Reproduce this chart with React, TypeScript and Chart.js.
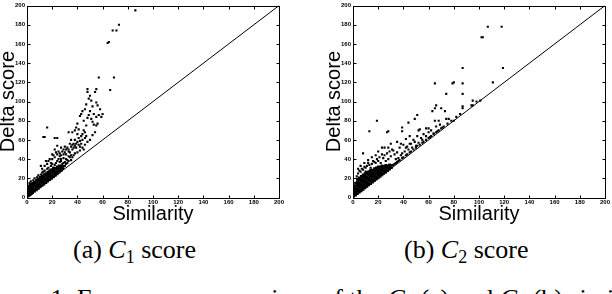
import React, { useEffect, useRef } from "react";
import { Chart, registerables } from "chart.js";

Chart.register(...registerables);

// ---------- DATA ----------
const axisMin = 0;
const axisMax = 200;
const tickStep = 20;
const xTitle = "Similarity";
const yTitle = "Delta score";
const diagonal = [
  { x: 0, y: 0 },
  { x: 200, y: 200 },
];

// C1: dense cluster (x -> list of y)
const c1DenseCols: [number, number[]][] = [
  [0.5, [1, 3, 5, 7, 9]],
  [1.5, [2, 4, 6, 8, 10, 12]],
  [2.5, [3, 5, 7, 9, 11, 13]],
  [3.5, [4, 6, 8, 10, 12, 14]],
  [4.5, [5, 7, 9, 11, 13, 15]],
  [6, [6.5, 9, 11.5, 14, 16]],
  [7.5, [8, 10.5, 13, 15.5, 18]],
  [9, [9.5, 12, 14.5, 17, 19.5]],
  [10.5, [11, 13.5, 16, 18.5, 21]],
  [12, [12.5, 15, 17.5, 20, 22.5]],
  [13.5, [14, 16.5, 19, 21.5, 24]],
  [15, [15.5, 18, 20.5, 23, 25]],
  [16.5, [17, 19.5, 22, 24.5, 26.5]],
  [18, [18.5, 21, 23.5, 26, 28]],
  [19.5, [20, 22.5, 25, 27.5, 29]],
  [21, [21.5, 24, 26.5, 29, 31]],
  [22.5, [23, 25.5, 28, 30.5]],
  [24, [24.5, 27, 29.5, 32]],
  [25.5, [26.5, 29, 31, 33]],
  [27, [28, 30.5, 33]],
  [28.5, [30, 32.5]],
];

// C1: sparse points [similarity, delta]
const c1Sparse: [number, number][] = [
  [86, 195], [73, 180], [68, 174], [71, 174], [65, 162], [64, 161], [57, 125], [69, 125], [66, 112],
  [48, 113], [48, 110], [55, 113], [54, 110], [50, 106],
  [49, 103], [51, 101], [55, 99], [47, 97], [56, 96], [52, 95], [46, 92], [58, 92], [50, 90], [44, 90],
  [43, 87], [53, 87], [57, 86], [55, 84], [59, 84], [48, 83], [51, 82], [45, 80], [52, 79], [56, 77],
  [53, 76], [55, 75], [47, 75], [42, 85], [60, 87], [49, 86],
  [36, 68], [40, 66], [43, 64], [47, 64], [46, 68], [39, 73], [41, 71], [33, 68], [34, 56], [36, 55],
  [39, 56], [43, 56], [27, 52], [31, 50], [29, 45], [26, 43], [24, 54], [22, 62], [24, 62], [16, 73],
  [13, 63], [14, 63], [38, 60], [41, 62], [44, 66], [37, 52], [33, 48], [30, 53], [35, 60], [42, 59],
  [45, 70], [40, 77], [38, 70],
  [20, 40], [21, 44], [22, 42], [23, 47], [24, 45], [25, 48], [26, 46], [27, 44], [28, 48], [29, 50],
  [30, 47], [31, 45], [32, 52], [33, 50], [34, 47], [35, 53], [36, 50], [37, 56], [38, 54], [39, 52],
  [40, 58], [41, 55], [42, 53], [44, 60], [46, 62], [25, 40], [27, 38], [29, 41], [31, 40], [33, 43],
  [30, 37], [28, 35], [32, 39], [34, 42], [35, 44], [19, 36], [18, 40], [17, 38], [16, 35], [15, 38],
  [20, 45], [22, 50], [12, 30], [11, 33], [14, 33],
  [30, 33], [31, 35], [32, 36], [33, 38], [35, 39], [36, 42], [37, 44], [38, 46], [40, 47], [42, 49],
  [44, 52], [46, 55], [48, 58], [50, 60], [52, 65], [54, 68], [45, 50],
  [2, 15], [3, 17], [5, 18], [6, 20], [8, 21], [9, 23], [11, 24], [12, 26], [13, 27], [14, 28],
  [16, 30], [17, 31], [19, 33], [20, 35], [22, 34], [23, 36], [24, 38], [26, 37], [27, 40], [29, 36],
];

// C2: dense cluster (x -> list of y)
const c2DenseCols: [number, number[]][] = [
  [0.5, [1, 3.5, 6, 8.5, 11]],
  [2, [2.5, 5, 7.5, 10, 12.5, 15]],
  [3.5, [4, 6.5, 9, 11.5, 14, 16.5, 19]],
  [5, [5.5, 8, 10.5, 13, 15.5, 18, 20.5]],
  [6.5, [7, 9.5, 12, 14.5, 17, 19.5, 22]],
  [8, [8.5, 11, 13.5, 16, 18.5, 21, 23.5]],
  [9.5, [10, 12.5, 15, 17.5, 20, 22.5, 25]],
  [11, [11.5, 14, 16.5, 19, 21.5, 24, 26]],
  [12.5, [13, 15.5, 18, 20.5, 23, 25.5, 27]],
  [14, [14.5, 17, 19.5, 22, 24.5, 27, 28.5]],
  [15.5, [16, 18.5, 21, 23.5, 26, 28.5]],
  [17, [17.5, 20, 22.5, 25, 27.5, 30]],
  [18.5, [19, 21.5, 24, 26.5, 29, 31]],
  [20, [20.5, 23, 25.5, 28, 30.5, 32]],
  [21.5, [22, 24.5, 27, 29.5, 32]],
  [23, [23.5, 26, 28.5, 31, 33]],
  [24.5, [25, 27.5, 30, 32.5]],
  [26, [26.5, 29, 31.5, 33.5]],
  [27.5, [28, 30.5, 33]],
  [29, [29.5, 32, 34]],
  [30.5, [31, 33.5]],
];

// C2: sparse points [similarity, delta]
const c2Sparse: [number, number][] = [
  [107, 178], [118, 178], [102, 167], [103, 167], [119, 135], [87, 135], [87, 119], [87, 108], [111, 120],
  [65, 119], [79, 119], [80, 120], [74, 108], [95, 101], [101, 101], [87, 95], [87, 93], [94, 96],
  [65, 93], [66, 96], [63, 90], [70, 93], [73, 90], [74, 82], [76, 82], [80, 80], [51, 86], [49, 82],
  [65, 80], [68, 80], [58, 72], [60, 72], [52, 70], [53, 71], [44, 78], [39, 73], [39, 69], [27, 68],
  [28, 69], [19, 80], [13, 69], [8, 46], [12, 39],
  [95, 96], [98, 100], [85, 87], [82, 84], [78, 80], [75, 77], [72, 74], [70, 72], [68, 70], [66, 68],
  [64, 66], [62, 64], [60, 62], [58, 60], [56, 58], [55, 57], [53, 55], [51, 54], [50, 52], [48, 50],
  [46, 48], [45, 47], [43, 45], [42, 44], [40, 42], [39, 41], [37, 39], [36, 38], [35, 37], [34, 36],
  [33, 35], [32, 34],
  [3, 22], [4, 25], [5, 28], [6, 27], [7, 30], [8, 29], [9, 32], [10, 31], [11, 33], [12, 36],
  [13, 34], [15, 35], [16, 38], [17, 37], [18, 36], [19, 40], [20, 38], [21, 42], [22, 36], [23, 45],
  [24, 41], [25, 44], [26, 38], [27, 46], [28, 40], [29, 48], [30, 43], [31, 50], [33, 45], [34, 40],
  [35, 47], [36, 41], [37, 52], [38, 44], [39, 46], [40, 55], [41, 48], [42, 52], [43, 53], [44, 50],
  [45, 56], [46, 56], [47, 52], [48, 60], [49, 58], [50, 54], [51, 64], [52, 57], [54, 62], [55, 60],
  [56, 66], [58, 64], [60, 68], [61, 63], [62, 70], [64, 67], [66, 74], [67, 69], [69, 76], [71, 73],
  [10, 27], [14, 31], [6, 33], [9, 36], [4, 30], [20, 48], [25, 52], [30, 56], [35, 58], [32, 49],
  [28, 52], [23, 52], [18, 44], [15, 42], [38, 56], [42, 61], [45, 64],
];

const captionA = { label: "(a) ", sym: "C", sub: "1", rest: " score" };
const captionB = { label: "(b) ", sym: "C", sub: "2", rest: " score" };
const figureCaption = ["Figure 1: Frequency comparison of the ", "C", "1", " (a) and ", "C", "2", " (b) similarity scores"];

// ---------- CHART ----------
const toPts = (cols: [number, number[]][]) => {
  const out: { x: number; y: number }[] = [];
  cols.forEach(([x, ys]) => ys.forEach((y) => out.push({ x, y })));
  return out;
};
const pairPts = (arr: [number, number][]) => arr.map(([x, y]) => ({ x, y }));

const framePlugin = {
  id: "frame",
  afterDraw(chart: any) {
    const { ctx, chartArea: a, scales } = chart;
    const L = Math.round(a.left) + 0.5;
    const R = Math.round(a.right) + 0.5;
    const T = Math.round(a.top) + 0.5;
    const B = Math.round(a.bottom) + 0.5;
    ctx.save();
    ctx.strokeStyle = "#000";
    ctx.lineWidth = 1;
    ctx.strokeRect(L, T, R - L, B - T);
    const len = 3;
    ctx.beginPath();
    scales.x.ticks.forEach((t: any) => {
      const px = Math.round(scales.x.getPixelForValue(t.value)) + 0.5;
      ctx.moveTo(px, B);
      ctx.lineTo(px, B - len);
      ctx.moveTo(px, T);
      ctx.lineTo(px, T + len);
    });
    scales.y.ticks.forEach((t: any) => {
      const py = Math.round(scales.y.getPixelForValue(t.value)) + 0.5;
      ctx.moveTo(L, py);
      ctx.lineTo(L + len, py);
      ctx.moveTo(R, py);
      ctx.lineTo(R - len, py);
    });
    ctx.stroke();
    ctx.restore();
  },
};

const CANVAS_H = 224;
const PLOT_BOTTOM = 197.5;

function Panel({ dense, sparse, width, padRight }: { dense: [number, number[]][]; sparse: [number, number][]; width: number; padRight: number }) {
  const ref = useRef<HTMLCanvasElement | null>(null);
  useEffect(() => {
    if (!ref.current) return;
    const tickFont = { family: "Liberation Sans", size: 6, weight: "bold" as const };
    const chart = new Chart(ref.current, {
      type: "scatter",
      data: {
        datasets: [
          {
            type: "line",
            data: diagonal,
            borderColor: "#000",
            borderWidth: 1,
            pointRadius: 0,
            fill: false,
          } as any,
          {
            data: toPts(dense),
            pointStyle: "rect",
            pointRadius: 1.9,
            pointBorderWidth: 0,
            backgroundColor: "#000",
            borderColor: "#000",
          },
          {
            data: pairPts(sparse),
            pointStyle: "rect",
            pointRadius: 1.5,
            pointBorderWidth: 0,
            backgroundColor: "#000",
            borderColor: "#000",
          },
        ],
      },
      options: {
        responsive: false,
        animation: false,
        devicePixelRatio: 1,
        events: [],
        layout: { padding: { top: 2.5, right: padRight, left: 0, bottom: 0 } },
        plugins: { legend: { display: false }, tooltip: { enabled: false } },
        scales: {
          x: {
            type: "linear",
            min: axisMin,
            max: axisMax,
            grid: { display: false, drawTicks: false },
            border: { display: false },
            ticks: { stepSize: tickStep, font: tickFont, color: "#000", padding: 1, maxRotation: 0, autoSkip: false },
            title: {
              display: true,
              text: xTitle,
              color: "#000",
              font: { family: "Liberation Sans", size: 20, lineHeight: 1 },
              padding: { top: 0, bottom: 0 },
            },
            afterFit: (s: any) => {
              s.height = CANVAS_H - PLOT_BOTTOM;
            },
          },
          y: {
            type: "linear",
            min: axisMin,
            max: axisMax,
            grid: { display: false, drawTicks: false },
            border: { display: false },
            ticks: { stepSize: tickStep, font: tickFont, color: "#000", padding: 2, autoSkip: false },
            title: {
              display: true,
              text: yTitle,
              color: "#000",
              font: { family: "Liberation Sans", size: 20, lineHeight: 0.8 },
              padding: { top: 0, bottom: 0 },
            },
            afterFit: (s: any) => {
              s.width = 27;
            },
          },
        },
      },
      plugins: [framePlugin],
    });
    return () => chart.destroy();
  }, []);
  return <canvas ref={ref} width={width} height={CANVAS_H} style={{ display: "block", width, height: CANVAS_H }} />;
}

const serifText: React.CSSProperties = {
  position: "absolute",
  fontFamily: "'Liberation Serif', serif",
  fontSize: 26,
  lineHeight: "26px",
  whiteSpace: "nowrap",
  color: "#000",
  margin: 0,
};
const subStyle: React.CSSProperties = { fontSize: 18, position: "relative", top: 5, lineHeight: "0px" };

function Caption({ c, left }: { c: typeof captionA; left: number }) {
  return (
    <div style={{ ...serifText, left, top: 237 }}>
      {c.label}
      <i>{c.sym}</i>
      <span style={subStyle}>{c.sub}</span>
      {c.rest}
    </div>
  );
}

export default function App() {
  return (
    <div
      style={{
        position: "fixed",
        left: 0,
        top: 0,
        width: 612,
        height: 294,
        overflow: "hidden",
        background: "#fff",
      }}
    >
      <div style={{ position: "absolute", left: 0, top: 0 }}>
        <Panel dense={c1DenseCols} sparse={c1Sparse} width={300} padRight={21} />
      </div>
      <div style={{ position: "absolute", left: 326, top: 0 }}>
        <Panel dense={c2DenseCols} sparse={c2Sparse} width={286} padRight={7} />
      </div>
      <Caption c={captionA} left={73} />
      <Caption c={captionB} left={404} />
      <div style={{ ...serifText, left: -24, top: 286 }}>
        {figureCaption[0]}
        <i>{figureCaption[1]}</i>
        <span style={subStyle}>{figureCaption[2]}</span>
        {figureCaption[3]}
        <i>{figureCaption[4]}</i>
        <span style={subStyle}>{figureCaption[5]}</span>
        {figureCaption[6]}
      </div>
    </div>
  );
}
